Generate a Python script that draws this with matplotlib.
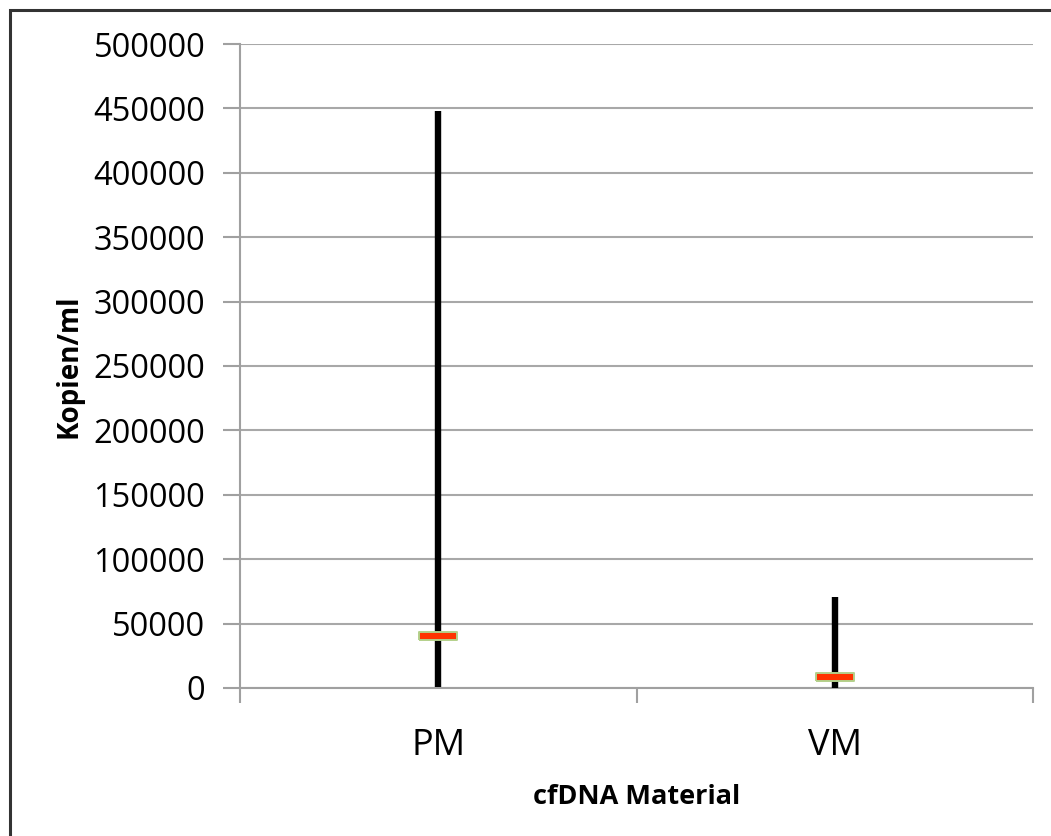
import matplotlib
matplotlib.use("Agg")
import matplotlib.pyplot as plt
from matplotlib.patches import Rectangle

categories = ["PM", "VM"]
max_values = [448000, 70500]
min_values = [800, 300]
median_values = [40500, 8900]
y_ticks = [0, 50000, 100000, 150000, 200000, 250000, 300000, 350000, 400000, 450000, 500000]

plt.rcParams['font.family'] = ['Open Sans', 'DejaVu Sans']

W, H = 1051, 836
fig = plt.figure(figsize=(W/100, H/100), dpi=100)
ax = fig.add_axes([240/W, 1-688/H, (1033-240)/W, (688-44)/H])

# outer border (top and left visible)
fig.patches.append(Rectangle((10/W, -0.1), 1.2, 1-10/H+0.1, transform=fig.transFigure,
                             fill=False, edgecolor='#333333', linewidth=2.2))

x = list(range(len(categories)))
ax.vlines(x, min_values, max_values, colors='black', linewidth=4.6, zorder=3)
rect = [(-1, -0.22), (1, -0.22), (1, 0.22), (-1, 0.22), (-1, -0.22)]
ax.plot(x, median_values, linestyle='none', marker=rect, markersize=27,
        markerfacecolor='#ff3300', markeredgecolor='#b3d08a', markeredgewidth=1.4, zorder=4)

ax.set_xlim(-0.5, 1.5)
ax.set_ylim(0, 500000)
ax.set_yticks(y_ticks)
ax.set_yticklabels([str(v) for v in y_ticks], fontsize=23.5)
ax.set_xticks(x)
ax.set_xticklabels(categories, fontsize=26)
ax.set_xticks([-0.5, 0.5, 1.5], minor=True)
ax.tick_params(axis='x', which='major', length=0, pad=29)
ax.tick_params(axis='x', which='minor', length=11, width=1.5, color='#a0a0a0')
ax.tick_params(axis='y', length=12, width=1.5, color='#a0a0a0', pad=13)

ax.grid(axis='y', color='#a8a8a8', linewidth=1.5, zorder=0)
ax.set_axisbelow(True)
for s in ['top', 'right']:
    ax.spines[s].set_visible(False)
for s in ['left', 'bottom']:
    ax.spines[s].set_color('#a0a0a0')
    ax.spines[s].set_linewidth(1.5)

ax.set_xlabel("cfDNA Material", fontsize=19.5, fontweight='bold', labelpad=14.5)
ax.set_ylabel("Kopien/ml", fontsize=20, fontweight='bold', labelpad=7)

fig.savefig("out.png", dpi=100)
